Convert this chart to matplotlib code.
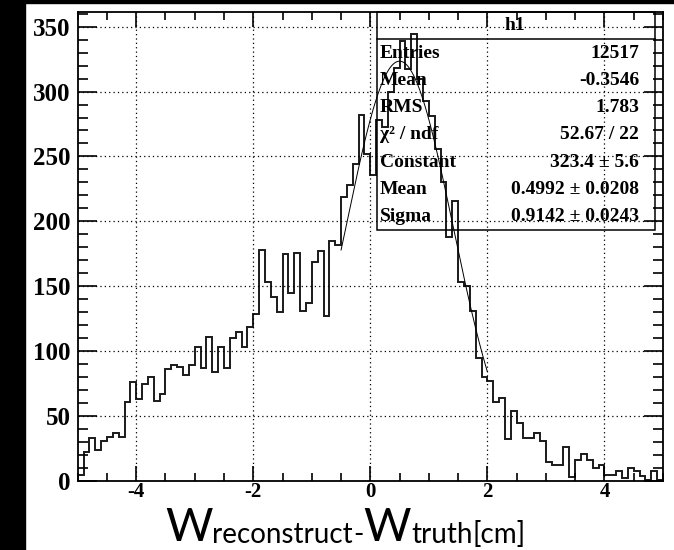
import numpy as np
import matplotlib
matplotlib.use("Agg")
import matplotlib.pyplot as plt
from matplotlib.ticker import MultipleLocator

# --- data: histogram h1 (100 bins from -5 to 5) ---
x_lo, x_hi, n_bins = -5.0, 5.0, 100
counts = [
    5, 22, 33, 24, 31, 34, 37, 34, 61, 76,
    63, 75, 80, 62, 67, 86, 89, 88, 82, 89,
    103, 87, 111, 84, 103, 87, 110, 115, 103, 119,
    129, 178, 153, 142, 130, 175, 145, 176, 131, 137,
    169, 177, 127, 185, 182, 219, 228, 244, 282, 252,
    236, 278, 273, 300, 318, 339, 317, 344, 310, 293,
    281, 256, 230, 188, 216, 153, 150, 131, 95, 80,
    77, 61, 64, 32, 54, 45, 33, 33, 37, 31,
    15, 12, 12, 26, 3, 16, 21, 16, 10, 12,
    5, 5, 8, 2, 10, 8, 4, 1, 8, 1,
]

# gaus fit result shown in the stats box
fit_const, fit_mean, fit_sigma = 323.4, 0.4992, 0.9142
fit_range = (-0.5, 2.0)

stat_names = ["Entries", "Mean", "RMS", "\u03c7\u00b2 / ndf", "Constant", "Mean", "Sigma"]
stat_values = ["12517", "-0.3546", "1.783", "52.67 / 22",
               "323.4 \u00b1 5.6", "0.4992 \u00b1 0.0208", "0.9142 \u00b1 0.0243"]

# x-axis title pieces: (text, big?)
xtitle = [("W", True), ("reconstruct", False), ("-", False), ("W", True), ("truth", False), ("[cm]", False)]

plt.rcParams["axes.unicode_minus"] = False

W, H = 674, 550
fig = plt.figure(figsize=(W / 100, H / 100), dpi=100)
fig.patch.set_facecolor("white")


def fx(p):
    return p / W


def fy(p):
    return 1 - p / H


# black screen border (left / top)
fig.add_artist(plt.Rectangle((0, 0), fx(25), 1, transform=fig.transFigure, color="black", zorder=-5))
fig.add_artist(plt.Rectangle((0, fy(3)), 1, 3 / H, transform=fig.transFigure, color="black", zorder=-5))

ax = fig.add_axes([fx(77.7), fy(481), (663 - 77.7) / W, (481 - 11.7) / H])

edges = np.linspace(x_lo, x_hi, n_bins + 1)
ax.stairs(counts, edges, baseline=None, color="#1a1a1a", lw=1.4)

xf = np.linspace(fit_range[0], fit_range[1], 300)
ax.plot(xf, fit_const * np.exp(-0.5 * ((xf - fit_mean) / fit_sigma) ** 2), color="black", lw=0.7)

ax.set_xlim(x_lo, x_hi)
ax.set_ylim(0, 361.5)
ax.xaxis.set_major_locator(MultipleLocator(2))
ax.xaxis.set_minor_locator(MultipleLocator(0.5))
ax.yaxis.set_major_locator(MultipleLocator(50))
ax.yaxis.set_minor_locator(MultipleLocator(10))
ax.tick_params(which="both", direction="in", top=True, right=True, width=1.2, color="black")
ax.tick_params(which="major", axis="x", length=11)
ax.tick_params(which="minor", axis="x", length=6)
ax.tick_params(which="major", axis="y", length=14)
ax.tick_params(which="minor", axis="y", length=7)
ax.tick_params(axis="x", pad=1)
ax.tick_params(axis="y", pad=5)
for lab in ax.get_xticklabels():
    lab.set_fontfamily("Liberation Serif")
    lab.set_fontweight("bold")
    lab.set_fontsize(15)
for lab in ax.get_yticklabels():
    lab.set_fontfamily("Liberation Serif")
    lab.set_fontweight("bold")
    lab.set_fontsize(18)
ax.grid(True, which="major", color="black", linestyle=(0, (1, 2.5)), lw=0.9)
for s in ax.spines.values():
    s.set_linewidth(1.3)

# stats box (transparent, like ROOT's)
bx0, bx1, by0, by1, bsep = 377, 655, 12, 230, 39
fig.add_artist(plt.Rectangle((fx(bx0), fy(by1)), fx(bx1) - fx(bx0), fy(by0) - fy(by1),
                             transform=fig.transFigure, fill=False, ec="black", lw=1.1))
fig.add_artist(plt.Line2D([fx(bx0), fx(bx1)], [fy(bsep), fy(bsep)], transform=fig.transFigure,
                          color="black", lw=1.1))
tkw = dict(fontfamily="Liberation Serif", fontweight="bold", fontsize=14, color="black")
fig.text(fx(515), fy(25), "h1", ha="center", va="center", **tkw)
for i, (nm, val) in enumerate(zip(stat_names, stat_values)):
    yy = 53 + i * 27.3
    fig.text(fx(380), fy(yy), nm, ha="left", va="center", **tkw)
    fig.text(fx(639), fy(yy), val, ha="right", va="center", **tkw)

# axis title, placed piece by piece
renderer = fig.canvas.get_renderer()
xpos = 165
for txt, big in xtitle:
    t = fig.text(fx(xpos), fy(541 if big else 543), txt, fontfamily="Lato",
                 fontsize=33 if big else 20, ha="left", va="baseline", color="black")
    bb = t.get_window_extent(renderer)
    xpos += bb.width

fig.savefig("out.png", dpi=100)
